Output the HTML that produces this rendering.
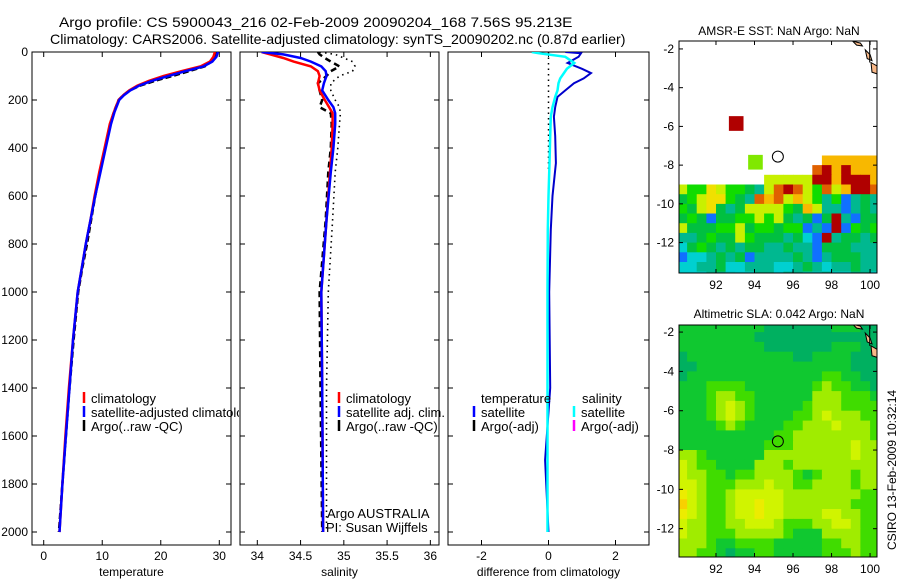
<!DOCTYPE html>
<html><head><meta charset="utf-8"><style>
html,body{margin:0;padding:0;background:#fff;}
svg{display:block;font-family:"Liberation Sans",sans-serif;}
</style></head><body>
<svg id="fig" width="900" height="580" viewBox="0 0 900 580" xmlns="http://www.w3.org/2000/svg">
<rect width="900" height="580" fill="#fff"/>
<text id="t1" x="0" y="27" font-size="14">Argo profile: CS 5900043_216 02-Feb-2009 20090204_168 7.56S 95.213E</text>
<text id="t2" x="0" y="44" font-size="14">Climatology: CARS2006. Satellite-adjusted climatology: synTS_20090202.nc (0.87d earlier)</text>
<text x="779" y="35" font-size="12" text-anchor="middle">AMSR-E SST: NaN Argo: NaN</text>
<text x="779" y="318" font-size="12" text-anchor="middle">Altimetric SLA: 0.042 Argo: NaN</text>
<text transform="translate(896,470) rotate(-90)" font-size="12" text-anchor="middle">CSIRO 13-Feb-2009 10:32:14</text>
<g id="layer"></g>
</svg>
<script>
// ---- profile data ----
const depthTicks = [0,200,400,600,800,1000,1200,1400,1600,1800,2000];
const tempTicks = [0,10,20,30];
const salTicks = [34,34.5,35,35.5,36];
const diffTicks = [-2,0,2];
const tDepth = [0,5,20,40,60,80,100,120,140,160,180,200,250,300,400,500,600,700,800,900,1000,1200,1400,1600,1800,2000];
const tClim = [29.2,29.2,29.0,28.4,26.8,23.5,20.5,18.0,16.0,14.6,13.6,12.8,12.0,11.3,10.4,9.5,8.7,8.0,7.2,6.5,5.8,5.0,4.3,3.7,3.2,2.7];
const tSat = [29.8,29.7,29.5,28.8,27.3,24.2,21.3,18.5,16.3,14.8,13.7,12.9,12.1,11.5,10.6,9.7,8.8,8.0,7.2,6.5,5.8,5.0,4.4,3.8,3.2,2.7];
const tArgo = [29.5,29.4,29.2,28.6,27.5,24.8,22.0,19.0,16.5,14.7,13.6,12.8,12.0,11.4,10.5,9.6,8.8,8.1,7.4,6.6,5.9,5.1,4.4,3.8,3.2,2.6];
const sDepth = [0,10,25,40,60,80,100,130,160,200,230,255,300,400,500,700,1000,1400,2000];
const sClim = [34.05,34.15,34.3,34.42,34.62,34.7,34.72,34.70,34.72,34.78,34.83,34.87,34.87,34.86,34.84,34.80,34.74,34.75,34.76];
const sSat = [34.05,34.3,34.5,34.62,34.74,34.79,34.8,34.77,34.75,34.82,34.88,34.9,34.9,34.88,34.85,34.80,34.74,34.75,34.76];
const sArgo = [34.7,34.72,34.78,34.85,34.95,34.85,34.8,34.7,34.72,34.75,34.72,34.85,34.86,34.85,34.82,34.79,34.72,34.73,34.75];
const sArgoRaw = [34.72,34.9,35.0,35.1,35.13,35.1,34.95,34.85,34.85,34.9,34.95,34.96,34.95,34.93,34.90,34.87,34.82,34.80,34.80];
const dDepth = [0,5,20,46,70,88,110,130,160,187,230,270,350,463,600,740,1000,1400,1700,2000];
const dTemp = [0.5,0.97,0.9,0.57,1.0,1.27,1.05,0.76,0.5,0.27,0.2,0.16,0.2,0.22,0.12,0.07,0.02,0.05,-0.1,0];
const dSal = [-0.5,-0.3,0.5,0.77,0.55,0.46,0.35,0.3,0.27,0.2,0.12,0.07,0.05,0.03,0.0,-0.02,-0.03,-0.03,-0.03,-0.03];
const dArgoDepth = [0,490];
const dArgoTemp = [0,0];
// ---- map data ----
const lonTicks = [92,94,96,98,100];
const latTicks = [-2,-4,-6,-8,-10,-12];
const sstTopLat = -7.5;
const sstRows = [
"...............oooooo",
"..............rRoRooo",
".........yyyyyRRoRRRo",
"yGGYyGGgtyrRryGryoRRr",
"gGyYYGgtroryoyGtGbtgt",
"GgyYgtgyyyyGgoyttbtgt",
"gGgbggGGyGygtgbgRtbgg",
"ygggGGygGGgGGbtbRbGgG",
"ttgGggyGgggtgcbRtggtg",
"cgGgtgtggttgttbgggttt",
"bcctgtgbttttgtbtgggtt",
"ccttgcctttcctgtcttgtt",
"ccctteccttctteetccttc"
];
const slaTopLat = -1.5;
const slaRows = [
"gggggggggdddddddgggdd",
"ggggggggddddddddddddd",
"gggggggggdddddddgggdd",
"dgggggggggggddggggddd",
"ddggggggggggggggggddd",
"dggggggggggggggGGggdd",
"gggGGGGgggggggGlGGggd",
"gggGllGGgggggglllGGGg",
"gggGlylGgggggGlllGGGG",
"gggGlylGggggGGlylllGG",
"ggggGlGggggGGlllylllG",
"ggggggggggGGllllllllG",
"gggggggggGGGllllllyll",
"llGgggggglllllllllyll",
"ylGGgggglllGlllllllll",
"yllGGgGGllllGgGlllGll",
"yylGGGlllyllGGllllGll",
"YylGGlyyyyyllllllllGG",
"oylGGlyyYyylllllllGGG",
"YylGGlyyYyyllllyyllGG",
"yllGGllyyylGGGllyylGG",
"yllGGGlllllGgggllllGG",
"lllGggGGGGgggggGGllGG",
"llGGgdggGGgggggGGGlGG"
];
const argoLon = 95.213, argoLat = -7.56;
const sstMarkLon = [93.05, 94.05], sstMarkLat = [-5.85, -7.85], sstMarkCode = ["R","l"];
const landLon = [[99.1,99.5,99.6,99.3],[99.75,100.0,100.1,99.85],[100.05,100.4,100.4,100.1]];
const landLat = [[-1.6,-1.7,-1.85,-1.8],[-2.05,-2.3,-2.6,-2.5],[-2.7,-2.9,-3.3,-3.2]];

const NS="http://www.w3.org/2000/svg";
const layer=document.getElementById('layer');
function el(tag,attrs,parent){const e=document.createElementNS(NS,tag);for(const k in attrs)e.setAttribute(k,attrs[k]);(parent||layer).appendChild(e);return e;}
function lin(d0,d1,r0,r1){return v=>r0+(v-d0)*(r1-r0)/(d1-d0);}

// fit titles to reference widths
[['t1',59,514],['t2',50,576]].forEach(([id,x,w])=>{
  const t=document.getElementById(id);
  const len=t.getComputedTextLength();
  t.setAttribute('transform','translate('+x+',0) scale('+(w/len)+',1)');
});

const yD = lin(0,2000,52,532);
const panels=[
 {name:'temperature',x0:32,x1:231,dom:[-2,32],ticks:tempTicks,label:'temperature',ylabels:true},
 {name:'salinity',x0:240,x1:439,dom:[33.8,36.1],ticks:salTicks,label:'salinity'},
 {name:'difference',x0:448,x1:649,dom:[-3,3],ticks:diffTicks,label:'difference from climatology'}];
const yTop=52,yBot=545;
panels.forEach(p=>{
  p.sx=lin(p.dom[0],p.dom[1],p.x0,p.x1);
  const g=el('g',{});
  
  
  p.g=g;
  const fr=el('rect',{x:p.x0,y:yTop,width:p.x1-p.x0,height:yBot-yTop,fill:'none',stroke:'#000','stroke-width':1},g);
  
  
  depthTicks.forEach(d=>{
    const y=yD(d);
    el('line',{x1:p.x0,x2:p.x0+5,y1:y,y2:y,stroke:'#000'},g);
    el('line',{x1:p.x1,x2:p.x1-5,y1:y,y2:y,stroke:'#000'},g);
    if(p.ylabels){const t=el('text',{x:p.x0-4,y:y+4,'font-size':12,'text-anchor':'end'},g);t.textContent=d;
      
      }
  });
  p.ticks.forEach(v=>{
    const x=p.sx(v);
    el('line',{x1:x,x2:x,y1:yTop,y2:yTop+5,stroke:'#000'},g);
    el('line',{x1:x,x2:x,y1:yBot,y2:yBot-5,stroke:'#000'},g);
    const t=el('text',{x:x,y:yBot+15,'font-size':12,'text-anchor':'middle'},g);t.textContent=v;
    
    
  });
  const lb=el('text',{x:(p.x0+p.x1)/2,y:576,'font-size':12,'text-anchor':'middle'},g);lb.textContent=p.label;
  
  
  const cp=el('clipPath',{id:'clip-'+p.name},g);
  el('rect',{x:p.x0,y:yTop,width:p.x1-p.x0+8,height:yBot-yTop},cp);
});
function line(p,depths,vals,color,w,dash,name){
  const pts=depths.map((d,i)=>p.sx(vals[i]).toFixed(1)+','+yD(d).toFixed(1)).join(' ');
  const a={points:pts,fill:'none',stroke:color,'stroke-width':w,'clip-path':'url(#clip-'+p.name+')'};
  if(dash)a['stroke-dasharray']=dash;
  const e=el('polyline',a,p.g);
  
  
}
const P=panels;
line(P[0],tDepth,tArgo,'#000',2.5,'6,3','temp-argo-line');
line(P[0],tDepth,tClim,'#f00',2.5,null,'temp-climatology-line');
line(P[0],tDepth,tSat,'#00f',2.5,null,'temp-satellite-line');
line(P[1],sDepth,sArgoRaw,'#000',1.6,'1.5,4','sal-argo-raw-line');
line(P[1],sDepth,sArgo,'#000',2.5,'6,4','sal-argo-line');
line(P[1],sDepth,sClim,'#f00',2.5,null,'sal-climatology-line');
line(P[1],sDepth,sSat,'#00f',2.5,null,'sal-satellite-line');
line(P[2],dArgoDepth,dArgoTemp,'#000',1.5,'1.5,4','diff-argo-line');
line(P[2],dDepth,dTemp,'#00c',2,null,'diff-temp-satellite-line');
line(P[2],dDepth,dSal,'#0ff',2.5,null,'diff-sal-satellite-line');

function legend(g,x,y,color,text,name){
  el('line',{x1:x,x2:x,y1:y-11,y2:y,stroke:color,'stroke-width':2.5},g);
  const t=el('text',{x:x+7,y:y,'font-size':13},g);t.textContent=text;
  
  
  return t;
}
legend(P[0].g,84,403,'#f00','climatology','legend-climatology');
legend(P[0].g,84,417,'#00f','satellite-adjusted climatology','legend-satellite-adjusted').setAttribute('clip-path','url(#clip-temperature)');
legend(P[0].g,84,431,'#000','Argo(..raw -QC)','legend-argo');
legend(P[1].g,339,403,'#f00','climatology','legend-sal-climatology');
legend(P[1].g,339,417,'#00f','satellite adj. clim.','legend-sal-satellite');
legend(P[1].g,339,431,'#000','Argo(..raw -QC)','legend-sal-argo');
{const t=el('text',{x:481,y:403,'font-size':13},P[2].g);t.textContent='temperature';
 
 const s=el('text',{x:582,y:403,'font-size':13},P[2].g);s.textContent='salinity';
 }
legend(P[2].g,474,417,'#00f','satellite','legend-diff-temp-satellite');
legend(P[2].g,474,431,'#000','Argo(-adj)','legend-diff-temp-argo');
legend(P[2].g,574,417,'#0ff','satellite','legend-diff-sal-satellite');
legend(P[2].g,574,431,'#f0f','Argo(-adj)','legend-diff-sal-argo');
{const a=el('text',{x:327,y:518,'font-size':13},P[1].g);a.textContent='Argo AUSTRALIA';
 
 const b=el('text',{x:326,y:532,'font-size':13},P[1].g);b.textContent='PI: Susan Wijffels';
 }

// ---- maps ----
const colors={c:'#00d0d0',t:'#00b890',e:'#00c8c0',g:'#00c040',G:'#10dc00',y:'#c8f000',Y:'#f0e000',o:'#f8b800',r:'#e06000',R:'#b00000',b:'#1070ff',d:'#00b070',l:'#80e800'};
const slaColors={d:'#00b060',g:'#10c830',G:'#40dc00',l:'#a0ec00',y:'#d0f400',Y:'#ecec00',o:'#f8d000'};
function map(name,x0,x1,y0,y1,lat0,lat1,rows,topLat,cmap,marks){
  const sx=lin(90.08,100.36,x0,x1), sy=lin(lat0,lat1,y0,y1);
  const g=el('g',{});
  
  
  const cp=el('clipPath',{id:'clip-'+name},g);
  el('rect',{x:x0,y:y0,width:x1-x0,height:y1-y0},cp);
  const cg=el('g',{'clip-path':'url(#clip-'+name+')'},g);
  rows.forEach((row,r)=>{
    [...row].forEach((ch,c)=>{
      const col=cmap[ch]; if(!col)return;
      const lo=90+c*0.5, la=topLat-r*0.5;
      const xa=sx(lo),xb=sx(lo+0.5),ya=sy(la),yb=sy(la-0.5);
      const e=el('rect',{x:xa.toFixed(1),y:ya.toFixed(1),width:(xb-xa+0.5).toFixed(1),height:(yb-ya+0.5).toFixed(1),fill:col},cg);
      
      
    });
  });
  if(marks){marks.lon.forEach((lo,i)=>{
    const e=el('rect',{x:sx(lo-0.38),y:sy(marks.lat[i]+0.38),width:sx(lo+0.38)-sx(lo-0.38),height:sy(marks.lat[i]-0.38)-sy(marks.lat[i]+0.38),fill:colors[marks.code[i]]},cg);
    
    
  });}
  landLon.forEach((ln,i)=>{
    const pts=ln.map((lo,j)=>sx(lo).toFixed(1)+','+sy(landLat[i][j]).toFixed(1)).join(' ');
    const e=el('polygon',{points:pts,fill:'#f8b888',stroke:'#000','stroke-width':1},cg);
    
    
  });
  el('line',{x1:sx(99.98),x2:sx(99.98),y1:y0,y2:sy(-2.7),stroke:'#000'},cg);
  const ci=el('circle',{cx:sx(argoLon),cy:sy(argoLat),r:5.5,fill:'none',stroke:'#000','stroke-width':1},g);
  
  
  el('rect',{x:x0,y:y0,width:x1-x0,height:y1-y0,fill:'none',stroke:'#000'},g);
  lonTicks.forEach(v=>{const x=sx(v);
    el('line',{x1:x,x2:x,y1:y0,y2:y0+4,stroke:'#000'},g);el('line',{x1:x,x2:x,y1:y1,y2:y1-4,stroke:'#000'},g);
    const t=el('text',{x:x,y:y1+16,'font-size':12,'text-anchor':'middle'},g);t.textContent=v;
    });
  latTicks.forEach(v=>{const y=sy(v);
    el('line',{x1:x0,x2:x0+4,y1:y,y2:y,stroke:'#000'},g);el('line',{x1:x1,x2:x1-4,y1:y,y2:y,stroke:'#000'},g);
    const t=el('text',{x:x0-5,y:y+4,'font-size':12,'text-anchor':'end'},g);t.textContent=v;
    });
}
map('sst-map',679,877,41,273,-1.59,-13.57,sstRows,sstTopLat,colors,{lon:sstMarkLon,lat:sstMarkLat,code:sstMarkCode});
map('sla-map',679,877,325,557,-1.64,-13.44,slaRows,slaTopLat,slaColors,null);
</script>
</body></html>
